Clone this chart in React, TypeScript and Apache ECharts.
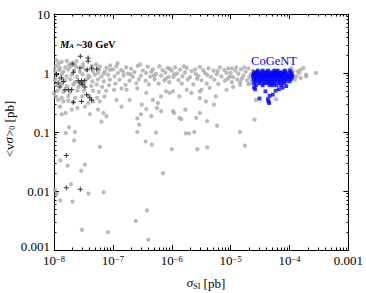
import React, { useEffect, useRef } from 'react';
import * as echarts from 'echarts';

const xMajorTicks = [1e-8, 1e-7, 1e-6, 1e-5, 1e-4, 1e-3];
const yMajorTicks = [0.001, 0.01, 0.1, 1, 10];
const yLabelTicks = [0.01, 0.1, 1, 10];
const yBottomLabel = '0.001';

// grey points: all models
const greyPoints: [number, number][] = [
  // 1e-8 .. 1e-7 decade
  [1.1e-8,1.65],[1.35e-8,1.55],[1.65e-8,1.6],[2.0e-8,1.48],[2.4e-8,1.58],[3.1e-8,1.42],[1.2e-8,1.45],[1.8e-8,1.38],
  [1.08e-8,1.3],[1.26e-8,1.22],[1.55e-8,1.25],[1.9e-8,1.28],[2.35e-8,1.3],[3.1e-8,1.26],[4.4e-8,1.32],[6.0e-8,1.28],[7.8e-8,1.22],[5.2e-8,1.4],[9.0e-8,1.35],
  [1.04e-8,1.08],[1.23e-8,1.12],[1.44e-8,1.05],[1.75e-8,1.15],[2.2e-8,1.1],[2.75e-8,1.05],[3.5e-8,1.12],[4.6e-8,1.08],[5.8e-8,1.14],[7.3e-8,1.05],[8.9e-8,1.12],
  [1.1e-8,0.92],[1.35e-8,0.96],[1.64e-8,0.88],[2.0e-8,0.93],[2.42e-8,0.86],[3.06e-8,0.95],[3.82e-8,0.9],[4.95e-8,0.94],[6.4e-8,0.87],[8.3e-8,0.93],[5.6e-8,1.0],[7.0e-8,0.98],
  [1.04e-8,0.76],[1.26e-8,0.8],[1.54e-8,0.74],[1.87e-8,0.78],[2.27e-8,0.7],[3.6e-8,0.78],[4.5e-8,0.72],[5.6e-8,0.78],[7.0e-8,0.72],[8.9e-8,0.77],[4.0e-8,0.85],
  [1.08e-8,0.62],[1.35e-8,0.64],[1.64e-8,0.6],[2.13e-8,0.64],[2.6e-8,0.58],[3.2e-8,0.66],[4.3e-8,0.6],[5.3e-8,0.64],[6.6e-8,0.58],[8.6e-8,0.62],
  [1.15e-8,0.5],[1.44e-8,0.48],[1.87e-8,0.47],[2.5e-8,0.5],[3.2e-8,0.5],[4.6e-8,0.5],[5.8e-8,0.48],[7.7e-8,0.5],[1.0e-8,0.45],
  [1.08e-8,0.4],[1.35e-8,0.38],[1.75e-8,0.41],[2.3e-8,0.38],[3.0e-8,0.4],[3.9e-8,0.41],[5.4e-8,0.38],[7.2e-8,0.4],
  [1.18e-8,0.35],[1.44e-8,0.33],[1.75e-8,0.34],[2.13e-8,0.32],[3.82e-8,0.31],[4.6e-8,0.33],[6.0e-8,0.33],[1.26e-8,0.27],[1.58e-8,0.21],[2.0e-8,0.24],[2.5e-8,0.255],[3.35e-8,0.27],[4.07e-8,0.2],[5.6e-8,0.24],[6.9e-8,0.21],[7.8e-8,0.185],[6.4e-8,0.15],[1.35e-8,0.2],
  [1.58e-8,0.096],[1.8e-8,0.12],[2.27e-8,0.1],[2.2e-8,0.072],[6.0e-8,0.056],[1.28e-8,0.033],[1.7e-8,0.027],[3.35e-8,0.028],[2.9e-8,0.022],[1.94e-8,0.013],[1.04e-8,0.0105],[1.11e-8,0.0089],[1.28e-8,0.0069],[2.07e-8,0.0066],[3.87e-8,0.009],[6.95e-8,0.0095],[2.98e-8,0.0022],[8.2e-8,0.002],
  // 1e-7 .. 1e-6 decade
  [1.14e-7,1.3],[1.68e-7,1.25],[2.65e-7,1.32],[3.92e-7,1.28],[6.17e-7,1.3],[8.5e-7,1.22],
  [1.0e-7,1.15],[1.38e-7,1.12],[2.04e-7,1.18],[3.22e-7,1.1],[4.76e-7,1.15],[7.0e-7,1.12],[9.3e-7,1.17],
  [1.22e-7,1.0],[1.8e-7,0.98],[2.33e-7,1.04],[3.67e-7,1.0],[5.4e-7,0.97],[7.8e-7,1.02],
  [1.07e-7,0.88],[1.52e-7,0.9],[2.18e-7,0.86],[3.0e-7,0.9],[4.3e-7,0.87],[6.6e-7,0.9],[8.9e-7,0.86],
  [1.3e-7,0.77],[1.92e-7,0.74],[2.76e-7,0.78],[3.6e-7,0.74],[5.1e-7,0.78],[7.5e-7,0.75],
  [1.1e-7,0.66],[1.64e-7,0.63],[2.5e-7,0.67],[4.1e-7,0.64],[6.0e-7,0.66],[9.1e-7,0.7],
  [1.2e-7,1.45],[2.9e-7,1.4],[1.5e-7,1.05],[4.5e-7,1.05],[2.0e-7,0.95],[5.0e-7,0.9],[8.0e-7,0.8],
  [1.05e-7,0.52],[1.4e-7,0.55],[1.7e-7,0.52],[1.93e-7,0.35],[2.6e-7,0.55],[3.7e-7,0.46],[4.8e-7,0.35],[5.6e-7,0.255],[6.6e-7,0.4],[8.0e-7,0.49],[3.0e-7,0.2],[4.5e-7,0.185],[2.6e-7,0.17],[1.15e-7,0.35],[1.4e-7,0.27],[3.1e-7,0.29],[3.7e-7,0.245],[5.8e-7,0.31],[6.6e-7,0.225],[9.2e-7,0.46],
  [2.6e-7,0.1],[2.8e-7,0.133],[3.6e-7,0.069],[4.6e-7,0.061],[5.4e-7,0.098],[7.1e-7,0.02],[3.8e-7,0.0047],[2.45e-7,0.0031],[4.0e-7,0.0015],
  // 1e-6 .. 1e-5 decade
  [1.14e-6,1.25],[1.8e-6,1.22],[3.0e-6,1.27],[4.2e-6,1.2],[6.6e-6,1.25],[9.1e-6,1.2],
  [1.0e-6,1.1],[1.38e-6,1.14],[2.18e-6,1.08],[3.4e-6,1.12],[5.1e-6,1.1],[7.8e-6,1.13],
  [1.22e-6,0.98],[1.68e-6,1.02],[2.55e-6,0.97],[3.67e-6,1.0],[5.8e-6,0.96],[8.5e-6,1.0],
  [1.07e-6,0.86],[1.52e-6,0.88],[2.04e-6,0.85],[2.83e-6,0.89],[4.6e-6,0.86],[7.0e-6,0.88],[9.7e-6,0.87],
  [1.3e-6,0.76],[1.87e-6,0.78],[3.22e-6,0.75],[5.3e-6,0.77],[8.0e-6,0.74],
  [1.48e-6,0.66],[2.33e-6,0.64],[3.92e-6,0.66],[6.17e-6,0.65],
  [1.6e-6,1.3],[2.5e-6,1.15],[4.0e-6,0.93],[6.0e-6,1.08],[2.7e-6,0.8],[9.0e-6,0.8],[1.1e-6,0.95],
  [1.05e-6,0.49],[1.35e-6,0.4],[1.8e-6,0.52],[3.0e-6,0.49],[4.4e-6,0.56],[5.6e-6,0.4],[8.5e-6,0.52],[1.35e-6,0.173],[1.7e-6,0.24],[1.05e-6,0.225],[1.1e-6,0.21],[2.6e-6,0.173],[3.0e-6,0.21],[3.0e-6,0.375],[4.0e-6,0.153],[5.9e-6,0.128],[2.15e-6,0.46],[3.2e-6,0.52],[3.8e-6,0.33],[5.2e-6,0.29],[1.45e-6,0.165],
  [1.73e-6,0.095],[1.97e-6,0.095],[2.42e-6,0.1],[2.72e-6,0.051],[4.0e-6,0.055],[1.0e-6,0.051],
  // 1e-5 .. 1e-3
  [1.05e-5,1.2],[1.2e-5,1.1],[1.35e-5,0.98],[1.5e-5,1.15],[1.65e-5,0.9],[1.8e-5,1.05],[2.0e-5,1.2],[2.2e-5,0.95],[2.4e-5,1.1],[1.1e-5,0.85],[1.3e-5,0.78],[1.55e-5,0.8],[1.9e-5,0.75],[2.1e-5,0.85],[1.0e-5,1.0],[1.25e-5,1.25],[1.7e-5,1.25],[2.3e-5,0.75],[1.45e-5,0.7],[2.0e-5,0.65],[1.05e-5,0.7],[1.1e-5,0.58],[1.45e-5,0.63],[2.2e-5,0.67],
  [1.44e-5,0.1],[1.75e-5,0.059],[2.55e-5,0.162],[2.7e-5,0.35],[5.9e-5,0.36],
  [1.07e-4,1.2],[1.14e-4,1.07],[1.24e-4,0.77],[1.3e-4,0.88],[1.38e-4,1.07],[1.46e-4,1.0],[1.55e-4,1.14],[1.55e-4,0.82],[1.72e-4,1.22],[1.92e-4,0.94],[1.92e-4,0.88],[2.8e-4,1.0],
];

// black crosses: M_A ~ 30 GeV
const crossPoints: [number, number][] = [
  [2.8e-8,1.92],[3.8e-8,1.8],[3.8e-8,1.58],[2.1e-8,1.42],[2.76e-8,1.22],[3.67e-8,1.14],[5.3e-8,1.17],[4.35e-8,1.2],[2.13e-8,1.03],
  [1.35e-8,0.82],[1.44e-8,0.72],[1.26e-8,0.58],[1.54e-8,0.52],[1.75e-8,0.52],[2.0e-8,0.52],[2.58e-8,0.74],[2.94e-8,0.74],[3.27e-8,0.74],
  [2.76e-8,0.68],[3.02e-8,0.63],[3.35e-8,0.58],[3.58e-8,0.43],[4.07e-8,0.38],[4.35e-8,0.35],[2.94e-8,0.33],[2.13e-8,0.32],
  [1.18e-8,0.68],[1.1e-8,0.94],
  [1.62e-8,0.040],[1.62e-8,0.0114],[2.8e-8,0.0107],
];

// blue squares: CoGeNT region
const cogentPoints: [number, number][] = [
  [2.9e-5,1.1],[3.5e-5,1.1],[4.3e-5,1.1],[5.5e-5,1.1],[6.3e-5,1.1],[8.3e-5,1.1],[1.0e-4,1.1],
  [2.5e-5,1.03],[2.8e-5,1.03],[3.2e-5,1.03],[3.7e-5,1.03],[4.1e-5,1.03],[4.7e-5,1.03],[5.3e-5,1.03],[6.0e-5,1.03],[6.8e-5,1.03],[7.6e-5,1.03],[8.6e-5,1.03],[1.05e-4,1.03],
  [2.45e-5,0.96],[2.7e-5,0.96],[3.0e-5,0.96],[3.4e-5,0.96],[3.9e-5,0.96],[4.4e-5,0.96],[5.0e-5,0.96],[5.6e-5,0.96],[6.4e-5,0.96],[7.2e-5,0.96],[8.0e-5,0.96],[9.2e-5,0.96],[1.08e-4,0.96],
  [2.4e-5,0.9],[2.65e-5,0.9],[2.95e-5,0.9],[3.3e-5,0.9],[3.7e-5,0.9],[4.2e-5,0.9],[4.8e-5,0.9],[5.4e-5,0.9],[6.1e-5,0.9],[7.0e-5,0.9],[7.8e-5,0.9],[8.8e-5,0.9],[1.0e-4,0.9],[1.12e-4,0.9],
  [2.5e-5,0.84],[2.8e-5,0.84],[3.1e-5,0.84],[3.5e-5,0.84],[4.0e-5,0.84],[4.5e-5,0.84],[5.1e-5,0.84],[5.8e-5,0.84],[6.6e-5,0.84],[7.4e-5,0.84],[8.4e-5,0.84],[9.6e-5,0.84],[1.1e-4,0.84],
  [2.45e-5,0.78],[2.75e-5,0.78],[3.2e-5,0.78],[3.6e-5,0.78],[4.1e-5,0.78],[4.7e-5,0.78],[5.4e-5,0.78],[6.2e-5,0.78],[7.0e-5,0.78],[8.0e-5,0.78],[9.0e-5,0.78],[1.05e-4,0.78],
  [2.6e-5,0.72],[3.0e-5,0.72],[3.4e-5,0.72],[3.9e-5,0.72],[4.4e-5,0.72],[5.0e-5,0.72],[5.7e-5,0.72],[6.5e-5,0.72],[7.5e-5,0.72],[8.6e-5,0.72],[1.0e-4,0.72],
  [2.5e-5,0.67],[3.1e-5,0.67],[3.7e-5,0.67],[4.3e-5,0.67],[4.9e-5,0.67],[5.5e-5,0.67],[6.8e-5,0.67],[8.0e-5,0.67],
  [2.7e-5,0.62],[3.5e-5,0.62],[4.6e-5,0.62],[5.2e-5,0.62],[6.0e-5,0.62],[7.2e-5,0.62],
  [2.6e-5,0.53],[3.1e-5,0.37],[3.9e-5,0.49],[4.3e-5,0.36],[4.4e-5,0.33],[4.5e-5,0.31],[5.2e-5,0.43],[5.8e-5,0.5],[6.6e-5,0.53],[7.6e-5,0.56],[8.8e-5,0.6],[4.6e-5,0.41],[2.5e-5,0.57],
];

const minorX: number[] = [];
for (let e = -8; e < -3; e++) for (let m = 2; m < 10; m++) minorX.push(m * Math.pow(10, e));
const minorY: number[] = [];
for (let e = -3; e < 1; e++) for (let m = 2; m < 10; m++) minorY.push(m * Math.pow(10, e));

const FONT = '"Liberation Serif", "DejaVu Serif", serif';

export default function App() {
  const ref = useRef<HTMLDivElement>(null);
  useEffect(() => {
    document.body.style.margin = '0';
    const chart = echarts.init(ref.current!, null, { renderer: 'svg' });
    const gridRect = { left: 54, top: 14, right: 17, bottom: 43 };
    const lineStyle = { color: '#000', width: 1 };
    const xBase = { type: 'log', logBase: 10, min: 1e-8, max: 1e-3, splitLine: { show: false } };
    const yBase = { type: 'log', logBase: 10, min: 0.001, max: 10, splitLine: { show: false } };
    const xLabel = {
      show: true,
      customValues: xMajorTicks,
      margin: 4,
      fontFamily: FONT,
      color: '#000',
      formatter: (v: number) => {
        if (Math.abs(v - 1e-3) < 1e-9) return '{n|0.001}';
        const e = Math.round(Math.log10(v));
        return '{b|10}{s|\u2212' + -e + '}';
      },
      rich: {
        b: { fontSize: 13, fontFamily: FONT, lineHeight: 13, padding: [3, 0, 0, 0], verticalAlign: 'bottom', color: '#000' },
        n: { fontSize: 13, fontFamily: FONT, lineHeight: 13, padding: [3, 0, 0, 0], verticalAlign: 'bottom', color: '#000' },
        s: { fontSize: 8.5, fontFamily: FONT, lineHeight: 8, verticalAlign: 'top', color: '#000' },
      },
    };
    const yLabel = {
      show: true,
      customValues: yLabelTicks,
      margin: 4,
      fontFamily: FONT,
      fontSize: 13,
      lineHeight: 10,
      color: '#000',
      formatter: (v: number) => {
        if (v >= 10) return '10';
        if (v >= 1) return '1';
        if (v >= 0.1) return '0.1';
        return '0.01';
      },
    };
    const option: any = {
      animation: false,
      grid: [
        { ...gridRect, show: false },
        { ...gridRect, show: false },
      ],
      xAxis: [
        { ...xBase, gridIndex: 0, position: 'bottom', axisLine: { show: true, lineStyle }, axisTick: { show: true, inside: true, length: 5, customValues: xMajorTicks, lineStyle }, axisLabel: xLabel },
        { ...xBase, gridIndex: 0, position: 'top', axisLine: { show: true, lineStyle }, axisTick: { show: true, inside: true, length: 5, customValues: xMajorTicks, lineStyle }, axisLabel: { show: false } },
        { ...xBase, gridIndex: 1, position: 'bottom', axisLine: { show: false }, axisTick: { show: true, inside: true, length: 2.5, customValues: minorX, lineStyle }, axisLabel: { show: false } },
        { ...xBase, gridIndex: 1, position: 'top', axisLine: { show: false }, axisTick: { show: true, inside: true, length: 2.5, customValues: minorX, lineStyle }, axisLabel: { show: false } },
      ],
      yAxis: [
        { ...yBase, gridIndex: 0, position: 'left', axisLine: { show: true, lineStyle }, axisTick: { show: true, inside: true, length: 5, customValues: yMajorTicks, lineStyle }, axisLabel: yLabel },
        { ...yBase, gridIndex: 0, position: 'right', axisLine: { show: true, lineStyle }, axisTick: { show: true, inside: true, length: 5, customValues: yMajorTicks, lineStyle }, axisLabel: { show: false } },
        { ...yBase, gridIndex: 1, position: 'left', axisLine: { show: false }, axisTick: { show: true, inside: true, length: 2.5, customValues: minorY, lineStyle }, axisLabel: { show: false } },
        { ...yBase, gridIndex: 1, position: 'right', axisLine: { show: false }, axisTick: { show: true, inside: true, length: 2.5, customValues: minorY, lineStyle }, axisLabel: { show: false } },
      ],
      series: [
        {
          type: 'scatter', xAxisIndex: 0, yAxisIndex: 0, data: greyPoints,
          symbol: 'circle', symbolSize: 4.3, itemStyle: { color: '#aaaaaa' }, silent: true,
        },
        {
          type: 'scatter', xAxisIndex: 0, yAxisIndex: 0, data: crossPoints,
          symbol: 'path://M2,0H3V5H2ZM0,2H5V3H0Z', symbolSize: 5, itemStyle: { color: '#000' }, silent: true,
        },
        {
          type: 'scatter', xAxisIndex: 0, yAxisIndex: 0, data: cogentPoints,
          symbol: 'rect', symbolSize: 3.8, itemStyle: { color: '#0000ff' }, silent: true,
        },
      ],
      graphic: [
        {
          type: 'text', x: 50, y: 246,
          style: {
            text: yBottomLabel, fontFamily: FONT, fontSize: 13, lineHeight: 10, fill: '#000',
            align: 'right', verticalAlign: 'middle', textAlign: 'right', textVerticalAlign: 'middle',
          },
        },
        {
          type: 'text', x: 206, y: 283,
          style: {
            text: '{i|\u03c3}{sub|SI} [pb]', fontFamily: FONT, fontSize: 13, fill: '#000',
            align: 'center', verticalAlign: 'middle', textAlign: 'center', textVerticalAlign: 'middle',
            rich: {
              i: { fontFamily: FONT, fontSize: 13, fontStyle: 'italic', lineHeight: 14, verticalAlign: 'top', padding: [0, 0, 3, 0] },
              sub: { fontFamily: FONT, fontSize: 8, lineHeight: 9, verticalAlign: 'bottom' },
            },
          },
        },
        {
          type: 'text', x: 9, y: 129, rotation: Math.PI / 2,
          style: {
            text: '<v{i|\u03c3}>{sub|0} [pb]', fontFamily: FONT, fontSize: 13, fill: '#000',
            align: 'center', verticalAlign: 'middle', textAlign: 'center', textVerticalAlign: 'middle',
            rich: {
              i: { fontFamily: FONT, fontSize: 13, fontStyle: 'italic', lineHeight: 14, verticalAlign: 'top', padding: [0, 0, 3, 0] },
              sub: { fontFamily: FONT, fontSize: 8, lineHeight: 9, verticalAlign: 'bottom' },
            },
          },
        },
        {
          type: 'text', x: 60, y: 44,
          style: {
            text: '{m|M}{a|A}{t| ~30 GeV}', fontFamily: FONT, fontSize: 10, fill: '#000',
            align: 'left', verticalAlign: 'middle', textAlign: 'left', textVerticalAlign: 'middle',
            rich: {
              m: { fontFamily: FONT, fontSize: 10.5, fontStyle: 'italic', fontWeight: 'bold', lineHeight: 11, verticalAlign: 'top', padding: [0, 0, 2, 0] },
              a: { fontFamily: FONT, fontSize: 7, fontStyle: 'italic', fontWeight: 'bold', lineHeight: 8, verticalAlign: 'bottom' },
              t: { fontFamily: FONT, fontSize: 10.5, fontWeight: 'bold', lineHeight: 11, verticalAlign: 'top', padding: [0, 0, 2, 0] },
            },
          },
        },
        {
          type: 'text', x: 274, y: 61,
          style: {
            text: 'CoGeNT', fontFamily: FONT, fontSize: 12.5, fill: '#0000ff',
            align: 'center', verticalAlign: 'middle', textAlign: 'center', textVerticalAlign: 'middle',
          },
        },
      ],
    };
    chart.setOption(option);
    return () => chart.dispose();
  }, []);
  return <div ref={ref} style={{ width: 366, height: 293 }} />;
}
